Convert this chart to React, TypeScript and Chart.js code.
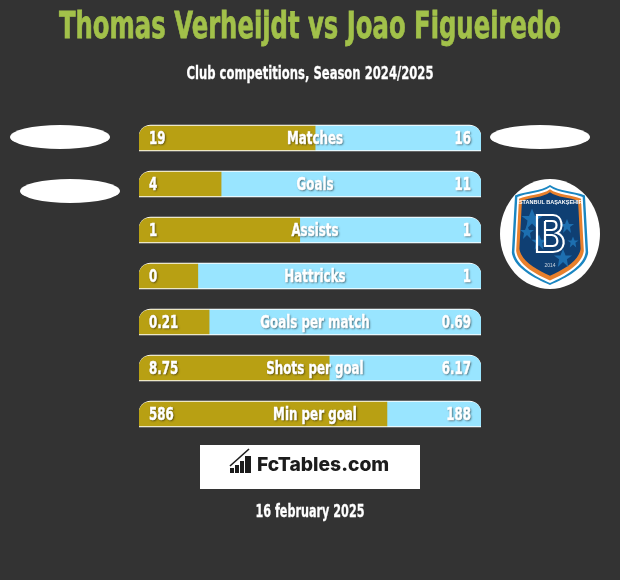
import React, { useEffect, useRef } from "react";
import { Chart, registerables } from "chart.js";

Chart.register(...registerables);

const categories = ["Matches", "Goals", "Assists", "Hattricks", "Goals per match", "Shots per goal", "Min per goal"];
const leftLabels = ["19", "4", "1", "0", "0.21", "8.75", "586"];
const rightLabels = ["16", "11", "1", "1", "0.69", "6.17", "188"];
const leftShare = [51.5, 24, 47, 17.2, 20.5, 55.6, 72.5];
const total = 100;

const FONT = '"DejaVu Sans"';
const CONDENSE = 0.66;

const labelPlugin = {
  id: "rowLabels",
  afterDatasetsDraw(chart: any) {
    const { ctx, scales } = chart;
    const left = scales.x.getPixelForValue(0);
    const right = scales.x.getPixelForValue(total);
    const put = (t: string, x: number, y: number, align: CanvasTextAlign) => {
      ctx.save();
      ctx.translate(x, y);
      ctx.scale(CONDENSE, 1);
      ctx.textAlign = align;
      ctx.fillText(t, 0, 0);
      ctx.shadowColor = "transparent";
      ctx.strokeText(t, 0, 0);
      ctx.restore();
    };
    ctx.save();
    ctx.textBaseline = "middle";
    ctx.fillStyle = "#ffffff";
    ctx.strokeStyle = "#ffffff";
    ctx.lineWidth = 0.5;
    ctx.shadowColor = "rgba(0,0,0,0.55)";
    ctx.shadowOffsetX = 1;
    ctx.shadowOffsetY = 1;
    ctx.shadowBlur = 2;
    ctx.font = `bold 18px ${FONT}`;
    categories.forEach((name, i) => {
      const y = scales.y.getPixelForValue(i) + 1;
      put(leftLabels[i], left + 10, y, "left");
      put(rightLabels[i], right - 10, y, "right");
      put(name, (left + right) / 2 + 5, y, "center");
    });
    ctx.restore();
  },
};

const abs = (o: React.CSSProperties): React.CSSProperties => ({ position: "absolute", ...o });

function fitScale(text: string, size: number, target: number) {
  const c = document.createElement("canvas").getContext("2d") as CanvasRenderingContext2D;
  c.font = `bold ${size}px ${FONT}`;
  return target / c.measureText(text).width;
}

function Text({ y, size, color, width, stroke = 0, children }: any) {
  return (
    <div
      style={{
        ...abs({
          left: 310,
          top: y,
          fontFamily: FONT,
          fontWeight: 700,
          fontSize: size,
          lineHeight: 1,
          color,
          whiteSpace: "nowrap",
          transform: `translateX(-50%) scaleX(${fitScale(children, size, width)})`,
        }),
        WebkitTextStroke: `${stroke}px ${color}`,
      }}
    >
      {children}
    </div>
  );
}

function Badge() {
  const shield = "M0,-47 C8,-41 24,-41 33,-37 L36,18 C34,32 16,42 0,49 C-16,42 -34,32 -36,18 L-33,-37 C-24,-41 -8,-41 0,-47 Z";
  const star = "M0,-7 L2,-2 L7,-2 L3,1 L4,7 L0,3 L-4,7 L-3,1 L-7,-2 L-2,-2 Z";
  return (
    <svg width={620} height={580} style={abs({ left: 0, top: 0 })}>
      <ellipse cx={550} cy={234} rx={50} ry={55} fill="#fff" />
      <g transform="translate(550,234)">
        <path d={shield} fill="#1a86c2" transform="scale(1.06,1.04)" />
        <path d={shield} fill="#fff" transform="scale(0.99,1.0)" />
        <path d={shield} fill="#e8802c" transform="scale(0.94,0.95)" />
        <path d={shield} fill="#0f3f73" transform="scale(0.85,0.87) translate(0,-1)" />
        <path d={star} fill="#1d6fb0" transform="translate(-18,-15) scale(1.5)" />
        <path d={star} fill="#1d6fb0" transform="translate(-23,-2)" />
        <path d={star} fill="#1d6fb0" transform="translate(-11,8) scale(1.1)" />
        <path d={star} fill="#1d6fb0" transform="translate(17,-8)" />
        <path d={star} fill="#1d6fb0" transform="translate(13,24) scale(1.3)" />
        <path d={star} fill="#1d6fb0" transform="translate(23,8) scale(0.8)" />
        <path
          d="M-13,-19 H3 C13,-19 14,-4 7,-1 C17,2 16,18 3,18 H-13 Z M-5,-13 V12 H3 C9,12 9,2 2,1 H-5 M-5,-4 H2 C8,-5 8,-13 2,-13 H-5"
          fill="none"
          stroke="#fff"
          strokeWidth={2.2}
        />
        <text x={0} y={-30} textAnchor="middle" fontFamily="Liberation Sans" fontWeight={700} fontSize={5.5} fill="#fff">
          ISTANBUL BAŞAKŞEHIR
        </text>
        <text x={0} y={33} textAnchor="middle" fontFamily="Liberation Sans" fontSize={5} fill="#cdd6e0">
          2014
        </text>
      </g>
    </svg>
  );
}

export default function App() {
  const ref = useRef<HTMLCanvasElement>(null);
  useEffect(() => {
    const chart = new Chart(ref.current as HTMLCanvasElement, {
      type: "bar",
      data: {
        labels: categories,
        datasets: [
          {
            label: "Track",
            data: categories.map(() => [0, total]),
            backgroundColor: "#ffffff",
            barThickness: 26,
            borderRadius: { topLeft: 12, topRight: 12, bottomLeft: 0, bottomRight: 0 },
            borderSkipped: false,
            grouped: false,
            order: 3,
          },
          {
            label: "Right",
            data: leftShare.map((v) => [v, total]),
            backgroundColor: "#99e5ff",
            barThickness: 24,
            borderRadius: { topLeft: 0, topRight: 11, bottomLeft: 0, bottomRight: 0 },
            borderSkipped: false,
            grouped: false,
            order: 2,
          },
          {
            label: "Left",
            data: leftShare.map((v) => [0, v]),
            backgroundColor: "#b8a013",
            barThickness: 24,
            borderRadius: { topLeft: 11, topRight: 0, bottomLeft: 0, bottomRight: 0 },
            borderSkipped: false,
            grouped: false,
            order: 1,
          },
        ],
      } as any,
      options: {
        indexAxis: "y",
        responsive: false,
        animation: false,
        layout: { padding: { left: 139, right: 139, top: 115, bottom: 143 } },
        plugins: { legend: { display: false }, tooltip: { enabled: false } },
        scales: {
          x: { display: false, min: 0, max: total },
          y: { display: false },
        },
      } as any,
      plugins: [labelPlugin],
    });
    return () => chart.destroy();
  }, []);

  return (
    <div style={abs({ left: 0, top: 0, width: 620, height: 580, background: "#333333", overflow: "hidden" })}>
      <style>{"html,body{margin:0;background:#333}"}</style>
      <canvas ref={ref} width={620} height={580} style={abs({ left: 0, top: 0 })} />
      <Text y={6} size={38} color="#a2c14a" width={502} stroke={0.8}>Thomas Verheijdt vs Joao Figueiredo</Text>
      <Text y={64} size={18} color="#ffffff" width={247} stroke={0.3}>Club competitions, Season 2024/2025</Text>
      <div style={abs({ left: 10, top: 125, width: 100, height: 24, borderRadius: "50%", background: "#fff" })} />
      <div style={abs({ left: 20, top: 179, width: 100, height: 24, borderRadius: "50%", background: "#fff" })} />
      <div style={abs({ left: 490, top: 125, width: 100, height: 24, borderRadius: "50%", background: "#fff" })} />
      <Badge />
      <div style={abs({ left: 200, top: 445, width: 220, height: 44, background: "#fff" })} />
      <svg width={30} height={34} style={abs({ left: 228, top: 445 })}>
        <g fill="#1c1c1c">
          <rect x={2} y={23} width={4} height={5} />
          <rect x={7} y={20} width={4} height={8} />
          <rect x={12} y={16} width={4} height={12} />
          <rect x={17} y={11} width={6} height={17} />
        </g>
        <path d="M2,21 L21,4" stroke="#1c1c1c" strokeWidth={1.6} />
      </svg>
      <div style={abs({ left: 257, top: 452, fontFamily: "Inter", fontWeight: 800, fontSize: 19.3, lineHeight: "24px", color: "#1c1c1c", whiteSpace: "nowrap" })}>FcTables.com</div>
      <Text y={503} size={17} color="#ffffff" width={109} stroke={0.3}>16 february 2025</Text>
    </div>
  );
}
